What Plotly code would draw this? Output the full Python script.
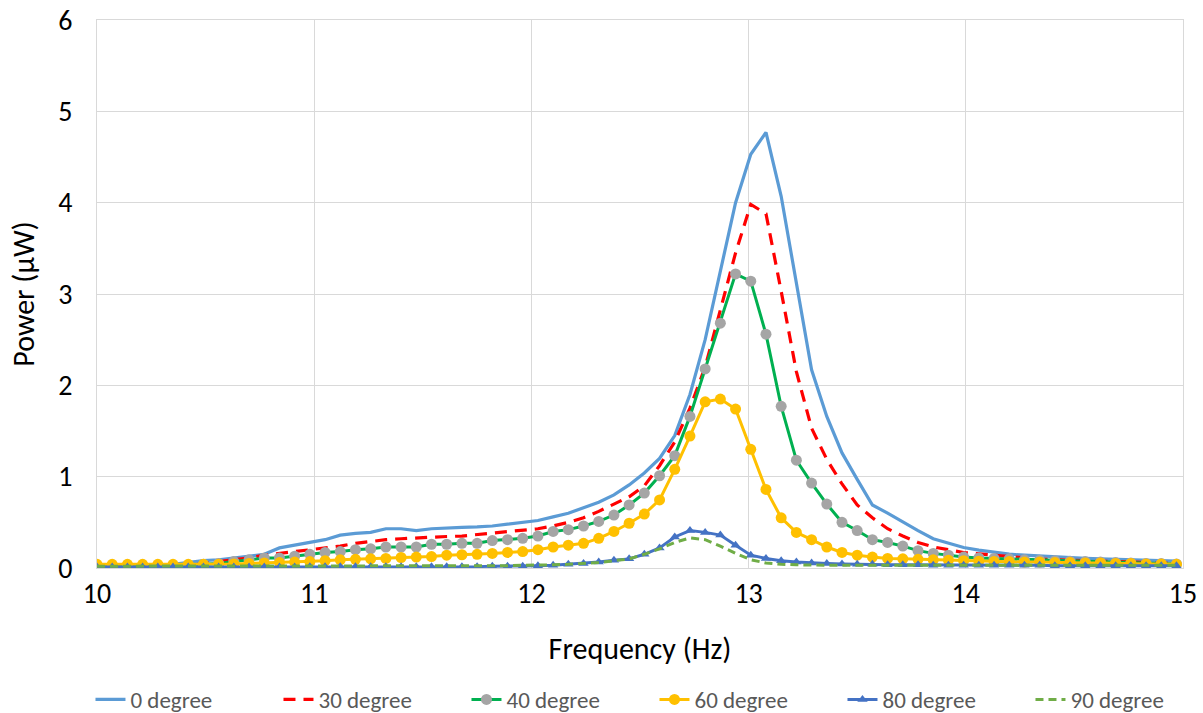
import plotly.graph_objects as go

freq = [10.00, 10.07, 10.14, 10.21, 10.28, 10.35, 10.42, 10.49, 10.56, 10.63,
        10.70, 10.77, 10.84, 10.91, 10.98, 11.05, 11.12, 11.19, 11.26, 11.33,
        11.40, 11.47, 11.54, 11.61, 11.68, 11.75, 11.82, 11.89, 11.96, 12.03,
        12.10, 12.17, 12.24, 12.31, 12.38, 12.45, 12.52, 12.59, 12.66, 12.73,
        12.80, 12.87, 12.94, 13.01, 13.08, 13.15, 13.22, 13.29, 13.36, 13.43,
        13.50, 13.57, 13.64, 13.71, 13.78, 13.85, 13.92, 13.99, 14.06, 14.13,
        14.20, 14.27, 14.34, 14.41, 14.48, 14.55, 14.62, 14.69, 14.76, 14.83,
        14.90, 14.97]

p0 = [0.02, 0.02, 0.02, 0.03, 0.03, 0.04, 0.06, 0.08, 0.09, 0.11,
      0.13, 0.15, 0.22, 0.25, 0.28, 0.31, 0.36, 0.38, 0.39, 0.43,
      0.43, 0.41, 0.43, 0.44, 0.445, 0.45, 0.46, 0.48, 0.50, 0.52,
      0.56, 0.60, 0.66, 0.72, 0.80, 0.91, 1.04, 1.20, 1.45, 1.90,
      2.50, 3.25, 4.00, 4.53, 4.77, 4.07, 3.10, 2.17, 1.66, 1.26,
      0.97, 0.69, 0.60, 0.50, 0.41, 0.32, 0.27, 0.225, 0.195, 0.17,
      0.152, 0.14, 0.13, 0.12, 0.113, 0.107, 0.10, 0.095, 0.09, 0.085,
      0.08, 0.075]

p30 = [0.02, 0.02, 0.02, 0.02, 0.02, 0.02, 0.02, 0.05, 0.07, 0.09,
       0.11, 0.14, 0.16, 0.18, 0.20, 0.22, 0.24, 0.27, 0.29, 0.31,
       0.32, 0.33, 0.34, 0.345, 0.35, 0.365, 0.38, 0.395, 0.41, 0.43,
       0.46, 0.50, 0.55, 0.62, 0.70, 0.78, 0.90, 1.12, 1.38, 1.75,
       2.20, 2.82, 3.45, 3.98, 3.88, 3.03, 2.15, 1.53, 1.19, 0.92,
       0.69, 0.55, 0.43, 0.35, 0.28, 0.23, 0.20, 0.17, 0.155, 0.14,
       0.12, 0.11, 0.10, 0.09, 0.085, 0.08, 0.075, 0.07, 0.065, 0.06,
       0.055, 0.05]

p40 = [0.02, 0.02, 0.02, 0.02, 0.02, 0.03, 0.03, 0.04, 0.05, 0.07,
       0.09, 0.11, 0.11, 0.13, 0.15, 0.17, 0.18, 0.20, 0.21, 0.23,
       0.23, 0.23, 0.26, 0.26, 0.27, 0.27, 0.30, 0.31, 0.325, 0.35,
       0.40, 0.42, 0.46, 0.51, 0.58, 0.69, 0.82, 1.01, 1.23, 1.66,
       2.18, 2.68, 3.22, 3.14, 2.56, 1.77, 1.18, 0.93, 0.70, 0.50,
       0.41, 0.31, 0.28, 0.24, 0.19, 0.16, 0.14, 0.12, 0.11, 0.105,
       0.10, 0.09, 0.085, 0.08, 0.075, 0.07, 0.065, 0.06, 0.055, 0.05,
       0.05, 0.045]

p60 = [0.04, 0.04, 0.04, 0.04, 0.04, 0.04, 0.04, 0.04, 0.04, 0.045,
       0.05, 0.055, 0.06, 0.065, 0.07, 0.08, 0.09, 0.095, 0.10, 0.105,
       0.115, 0.12, 0.125, 0.14, 0.145, 0.15, 0.16, 0.17, 0.18, 0.20,
       0.23, 0.25, 0.27, 0.325, 0.40, 0.49, 0.59, 0.745, 1.08, 1.445,
       1.82, 1.85, 1.74, 1.30, 0.86, 0.55, 0.39, 0.31, 0.23, 0.17,
       0.14, 0.12, 0.105, 0.10, 0.095, 0.09, 0.085, 0.08, 0.075, 0.07,
       0.07, 0.065, 0.065, 0.06, 0.06, 0.055, 0.055, 0.05, 0.05, 0.045,
       0.045, 0.04]

p80 = [0.01, 0.01, 0.01, 0.01, 0.01, 0.01, 0.01, 0.01, 0.01, 0.01,
       0.01, 0.01, 0.01, 0.01, 0.015, 0.015, 0.015, 0.015, 0.015, 0.015,
       0.015, 0.015, 0.015, 0.015, 0.015, 0.015, 0.02, 0.02, 0.02, 0.025,
       0.03, 0.04, 0.05, 0.065, 0.085, 0.10, 0.15, 0.22, 0.34, 0.41,
       0.39, 0.36, 0.25, 0.14, 0.105, 0.08, 0.065, 0.055, 0.05, 0.045,
       0.04, 0.04, 0.035, 0.035, 0.035, 0.03, 0.03, 0.03, 0.03, 0.03,
       0.03, 0.03, 0.03, 0.025, 0.025, 0.025, 0.025, 0.025, 0.025, 0.025,
       0.025, 0.025]

p90 = [0.02, 0.02, 0.02, 0.02, 0.02, 0.02, 0.02, 0.02, 0.02, 0.02,
       0.02, 0.02, 0.02, 0.02, 0.02, 0.02, 0.02, 0.02, 0.02, 0.02,
       0.02, 0.02, 0.02, 0.02, 0.02, 0.025, 0.025, 0.025, 0.03, 0.03,
       0.035, 0.04, 0.05, 0.06, 0.08, 0.10, 0.15, 0.21, 0.28, 0.33,
       0.31, 0.24, 0.16, 0.09, 0.055, 0.04, 0.035, 0.03, 0.03, 0.03,
       0.03, 0.03, 0.03, 0.03, 0.03, 0.03, 0.03, 0.03, 0.03, 0.03,
       0.03, 0.03, 0.03, 0.03, 0.03, 0.03, 0.03, 0.03, 0.03, 0.03,
       0.03, 0.03]

names = ["0 degree", "30 degree", "40 degree", "60 degree", "80 degree", "90 degree"]

FONT = "Carlito, Lato, sans-serif"

fig = go.Figure()
fig.add_trace(go.Scatter(x=freq, y=p0, name=names[0], mode="lines",
                         line=dict(color="#5B9BD5", width=3.2)))
fig.add_trace(go.Scatter(x=freq, y=p30, name=names[1], mode="lines",
                         line=dict(color="#FF0000", width=3.2, dash="12px,8px")))
fig.add_trace(go.Scatter(x=freq, y=p40, name=names[2], mode="lines+markers",
                         line=dict(color="#00B050", width=3),
                         marker=dict(symbol="circle", size=11, color="#A5A5A5")))
fig.add_trace(go.Scatter(x=freq, y=p60, name=names[3], mode="lines+markers",
                         line=dict(color="#FFC000", width=3),
                         marker=dict(symbol="circle", size=11, color="#FFC000")))
fig.add_trace(go.Scatter(x=freq, y=p80, name=names[4], mode="lines+markers",
                         line=dict(color="#4472C4", width=3),
                         marker=dict(symbol="triangle-up", size=9, color="#4472C4")))
fig.add_trace(go.Scatter(x=freq, y=p90, name=names[5], mode="lines",
                         line=dict(color="#70AD47", width=3, dash="8px,5px")))

grid = "#D9D9D9"
fig.update_layout(
    width=1203, height=713,
    margin=dict(l=97, r=20, t=20, b=145, autoexpand=False),
    paper_bgcolor="white", plot_bgcolor="white",
    font=dict(family=FONT, color="#000000"),
    showlegend=True,
    legend=dict(orientation="h", x=-0.006, xanchor="left", y=-0.24, yanchor="middle",
                font=dict(size=23, color="#595959", family=FONT),
                entrywidth=143, entrywidthmode="pixels", tracegroupgap=0),
    xaxis=dict(range=[10, 15], tickvals=[10, 11, 12, 13, 14, 15],
               showgrid=True, gridcolor=grid, gridwidth=1,
               showline=True, linecolor=grid, linewidth=1, mirror=True,
               zeroline=False, ticks="", tickfont=dict(size=28, color="#000000"),
               title=dict(text="Frequency (Hz)", font=dict(size=30, color="#000000"), standoff=28)),
    yaxis=dict(range=[0, 6], tickvals=[0, 1, 2, 3, 4, 5, 6],
               showgrid=True, gridcolor=grid, gridwidth=1,
               showline=True, linecolor=grid, linewidth=1, mirror=True,
               zeroline=False, ticks="", ticklabelstandoff=18, tickfont=dict(size=28, color="#000000"),
               title=dict(text="Power (\u03bcW)", font=dict(size=30, color="#000000"), standoff=14)),
)

fig.write_html("out.html")
